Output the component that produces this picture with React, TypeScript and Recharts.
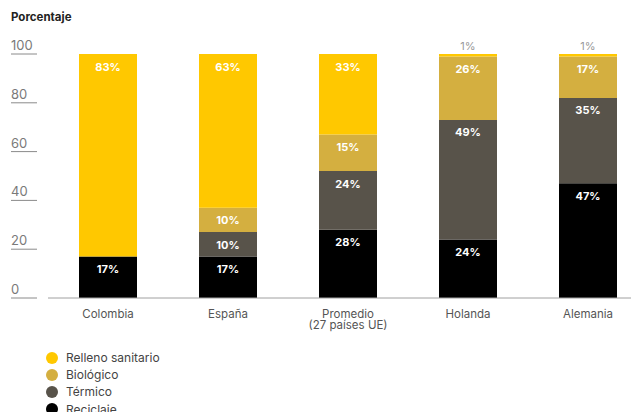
import React from 'react'
import { BarChart, Bar, XAxis, YAxis, LabelList } from 'recharts'

const categories = ['Colombia', 'España', 'Promedio\n(27 países UE)', 'Holanda', 'Alemania']
const reciclaje = [17, 17, 28, 24, 47]
const termico = [0, 10, 24, 49, 35]
const biologico = [0, 10, 15, 26, 17]
const relleno = [83, 63, 33, 1, 1]
const yTicks = [0, 20, 40, 60, 80, 100]

const series = [
  { key: 'reciclaje', name: 'Reciclaje', color: '#000000' },
  { key: 'termico', name: 'Térmico', color: '#58534A' },
  { key: 'biologico', name: 'Biológico', color: '#D4AF40' },
  { key: 'relleno', name: 'Relleno sanitario', color: '#FFC800' },
]

const data = categories.map((c, i) => ({
  name: c,
  reciclaje: reciclaje[i],
  termico: termico[i],
  biologico: biologico[i],
  relleno: relleno[i],
}))

const FONT = 'Inter, "Noto Sans", sans-serif'

function YTick({ y, payload }: any) {
  return (
    <g>
      <text x={3} y={y - 4} fontSize={13} fill="#7a7a7a" fontFamily={FONT} textAnchor="start">
        {payload.value}
      </text>
      <line x1={3} x2={29} y1={y} y2={y} stroke="#8a8a8a" strokeWidth={1} />
    </g>
  )
}

function XTick({ x, payload }: any) {
  const lines = String(payload.value).split('\n')
  return (
    <text x={x} y={309.5} fontSize={11.5} fill="#555" fontFamily={FONT} textAnchor="middle">
      {lines.map((l, i) => (
        <tspan key={i} x={x} dy={i === 0 ? 0 : 11.5}>{l}</tspan>
      ))}
    </text>
  )
}

function SegLabel({ x, y, width, value }: any) {
  if (!value) return null
  if (value < 5) {
    return (
      <text x={x + width / 2} y={y - 8} fontSize={11} fill="#999" fontFamily={FONT} textAnchor="middle" dominantBaseline="central">
        {value}%
      </text>
    )
  }
  return (
    <text x={x + width / 2} y={y + 12.5} fontSize={11} fontWeight={700} fill="#fff" fontFamily={FONT} textAnchor="middle" dominantBaseline="central">
      {value}%
    </text>
  )
}

export default function App() {
  return (
    <div style={{ position: 'relative', width: 631, height: 404, overflow: 'hidden', fontFamily: FONT }}>
      <div style={{ position: 'absolute', left: 3, top: 2, fontSize: 11.5, fontWeight: 700, color: '#222' }}>
        Porcentaje
      </div>
      <BarChart
        width={640}
        height={404}
        data={data}
        margin={{ top: 46, right: 0, bottom: 74, left: 0 }}
        style={{ position: 'absolute', left: 0, top: 0 }}
      >
        <YAxis
          domain={[0, 100]}
          ticks={yTicks}
          width={40}
          axisLine={false}
          tickLine={false}
          tick={<YTick />}
        />
        <XAxis
          dataKey="name"
          height={40}
          axisLine={{ stroke: '#a0a0a0' }}
          tickLine={false}
          tick={<XTick />}
          interval={0}
        />
        {series.map((s) => (
          <Bar key={s.key} dataKey={s.key} stackId="a" fill={s.color} barSize={58} isAnimationActive={false}>
            <LabelList dataKey={s.key} content={<SegLabel />} />
          </Bar>
        ))}
      </BarChart>
      <div style={{ position: 'absolute', left: 38, top: 341 }}>
        {[...series].reverse().map((s) => (
          <div key={s.key} style={{ display: 'flex', alignItems: 'center', height: 17.2 }}>
            <span style={{ width: 12, height: 12, borderRadius: 6, background: s.color, display: 'inline-block' }} />
            <span style={{ marginLeft: 8, fontSize: 12, color: '#444' }}>{s.name}</span>
          </div>
        ))}
      </div>
    </div>
  )
}
